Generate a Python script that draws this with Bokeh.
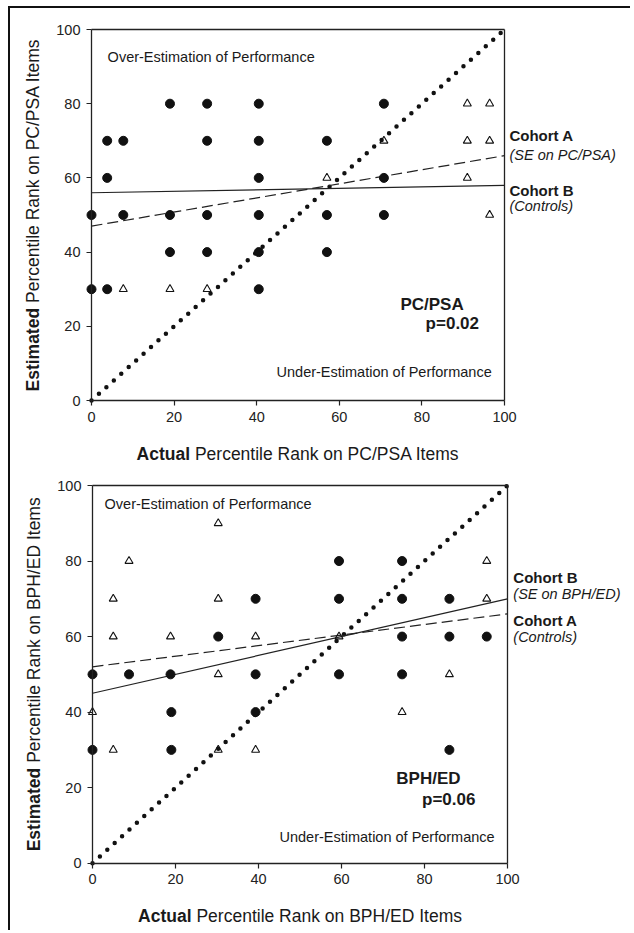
import math
from bokeh.plotting import figure
from bokeh.models import Range1d, Label, LinearAxis, FixedTicker
from bokeh.layouts import column
from bokeh.embed import file_html
from bokeh.resources import INLINE

FONT = "Liberation Sans"
TXT = "#1a1a1a"
INK = "#111111"

ticks = [0, 20, 40, 60, 80, 100]
line_x = [0, 100]
identity_y = [0, 100]

# ---- Panel 1: PC/PSA ----
pc_filled_x = [19, 28, 40.5, 70.8,
               3.8, 7.7, 28, 40.5, 57,
               3.8, 40.5, 70.8,
               0, 7.7, 19, 28, 40.5, 57, 70.8,
               19, 28, 40.5, 57,
               0, 3.8, 40.5]
pc_filled_y = [80, 80, 80, 80,
               70, 70, 70, 70, 70,
               60, 60, 60,
               50, 50, 50, 50, 50, 50, 50,
               40, 40, 40, 40,
               30, 30, 30]
pc_open_x = [91, 96.4, 70.8, 91, 96.4, 57, 91, 96.4, 7.7, 19, 28]
pc_open_y = [80, 80, 70, 70, 70, 60, 60, 50, 30, 30, 30]
pc_dashed_y = [47, 66]   # Cohort A (SE on PC/PSA)
pc_solid_y = [56, 58]    # Cohort B (Controls)

# ---- Panel 2: BPH/ED ----
bph_filled_x = [59.4, 74.6,
                39.3, 59.4, 74.6, 86,
                30.3, 74.6, 86, 95,
                0, 8.8, 18.8, 39.3, 59.4, 74.6,
                19, 39.3,
                0, 19, 86]
bph_filled_y = [80, 80,
                70, 70, 70, 70,
                60, 60, 60, 60,
                50, 50, 50, 50, 50, 50,
                40, 40,
                30, 30, 30]
bph_open_x = [30.3, 8.8, 95, 5, 30.3, 95, 5, 18.8, 39.3, 59.4, 30.3, 86, 0, 74.6, 5, 30.3, 39.3]
bph_open_y = [90, 80, 80, 70, 70, 70, 60, 60, 60, 60, 50, 50, 40, 40, 30, 30, 30]
bph_solid_y = [45, 70]   # Cohort B (SE on BPH/ED)
bph_dashed_y = [52, 66]  # Cohort A (Controls)


def lbl(p, x, y, text, size=14.5, style="normal", align="left", baseline="middle", angle=0):
    p.add_layout(Label(x=x, y=y, text=text, text_font=FONT, text_font_size=f"{size}px",
                       text_font_style=style, text_color=TXT, text_align=align,
                       text_baseline=baseline, angle=angle))


def make_panel(fig_w, fig_h, x0_px, ppx, y100_px, ppy, fx, fy, ox, oy, dashed_y, solid_y,
               item, over_xy, under_xy, name_xy, p_xy, pval, cohorts, rest_em):
    xr = Range1d(-x0_px / ppx, (fig_w - x0_px) / ppx)
    yr = Range1d(100 - (fig_h - y100_px) / ppy, 100 + y100_px / ppy)
    p = figure(width=fig_w, height=fig_h, min_border=0,
               x_range=xr, y_range=yr,
               output_backend="svg", toolbar_location=None, background_fill_color="white",
               border_fill_color="white")
    p.grid.visible = False
    p.outline_line_color = None
    for ax in (p.xaxis, p.yaxis):
        ax.fixed_location = 0
        ax.bounds = (0, 100)
        ax.ticker = FixedTicker(ticks=ticks, minor_ticks=[])
        ax.major_label_text_font = FONT
        ax.major_label_text_font_size = "14.5px"
        ax.major_label_text_color = "#222"
        ax.major_tick_out = 5
        ax.major_tick_in = 0
        ax.minor_tick_line_color = None
        ax.axis_line_color = "#222"
        ax.axis_line_width = 1.3
        ax.major_tick_line_color = "#222"
        ax.major_tick_line_width = 1.2
    p.xaxis.major_label_standoff = 6
    p.yaxis.major_label_standoff = 6

    # frame box: top and right edges
    for side in ("above", "right"):
        ax = LinearAxis(fixed_location=100, bounds=(0, 100),
                        ticker=FixedTicker(ticks=[], minor_ticks=[]),
                        axis_line_color="#222", axis_line_width=1.3,
                        major_tick_line_color=None, minor_tick_line_color=None,
                        major_label_text_color=None)
        p.add_layout(ax, side)

    p.line(line_x, identity_y, line_color=INK, line_width=4.5, line_dash="0 10", line_cap="round")
    p.line(line_x, dashed_y, line_color="#222", line_width=1.2, line_dash="11 5")
    p.line(line_x, solid_y, line_color="#222", line_width=1.2)
    p.scatter(fx, fy, marker="circle", size=9, fill_color=INK, line_color=INK)
    p.scatter(ox, oy, marker="triangle", size=8, fill_color=None, line_color=INK, line_width=1.1)

    lbl(p, over_xy[0], over_xy[1], "Over-Estimation of Performance")
    lbl(p, under_xy[0], under_xy[1], "Under-Estimation of Performance", align="right")
    lbl(p, name_xy[0], name_xy[1], item, size=17, style="bold")
    lbl(p, p_xy[0], p_xy[1], pval, size=17, style="bold")
    for (cx, cy, txt, st) in cohorts:
        lbl(p, cx, cy, txt, size=14.5 if st == "italic" else 15, style=st)

    # x axis title: bold "Actual" + normal rest
    fs = 17.5
    wA, wS, wR = 3.056 * fs, 0.278 * fs, rest_em * fs
    total = wA + wS + wR
    split = 50 + (-total / 2 + wA) / ppx
    ty = -53.0 / ppy
    lbl(p, split, ty, "Actual", size=fs, style="bold", align="right")
    lbl(p, split + wS / ppx, ty, f"Percentile Rank on {item} Items", size=fs)

    # y axis title: bold "Estimated" + normal rest, rotated
    wE = 4.779 * fs
    total = wE + wS + wR
    ysplit = 50 + (-total / 2 + wE) / ppy
    tx = -59.0 / ppx
    lbl(p, tx, ysplit, "Estimated", size=fs, style="bold", align="right", angle=math.pi / 2)
    lbl(p, tx, ysplit + wS / ppy, f"Percentile Rank on {item} Items", size=fs, angle=math.pi / 2)
    return p


p1 = make_panel(620, 466, 81, 4.13, 21, 3.71, pc_filled_x, pc_filled_y, pc_open_x, pc_open_y,
                pc_dashed_y, pc_solid_y, "PC/PSA", (3.9, 92.7), (96.9, 7.6), (74.8, 26), (80.9, 20.7),
                "p=0.02",
                [(101.2, 71.4, "Cohort A", "bold"), (101.2, 66.3, "(SE on PC/PSA)", "italic"),
                 (101.2, 56.6, "Cohort B", "bold"), (101.2, 52.3, "(Controls)", "italic")],
                15.117)

p2 = make_panel(620, 456, 82, 4.15, 11, 3.777, bph_filled_x, bph_filled_y, bph_open_x, bph_open_y,
                bph_dashed_y, bph_solid_y, "BPH/ED", (2.9, 95.2), (96.9, 6.9), (73.2, 22.3), (79.4, 16.8),
                "p=0.06",
                [(101.4, 75.7, "Cohort B", "bold"), (101.4, 71.3, "(SE on BPH/ED)", "italic"),
                 (101.4, 64.3, "Cohort A", "bold"), (101.4, 59.8, "(Controls)", "italic")],
                15.17)

layout = column(p1, p2, margin=(6, 0, 0, 8),
                styles={"border-left": "2px solid #111", "border-top": "2px solid #111"})

open("out.html", "w").write(file_html(layout, INLINE))
